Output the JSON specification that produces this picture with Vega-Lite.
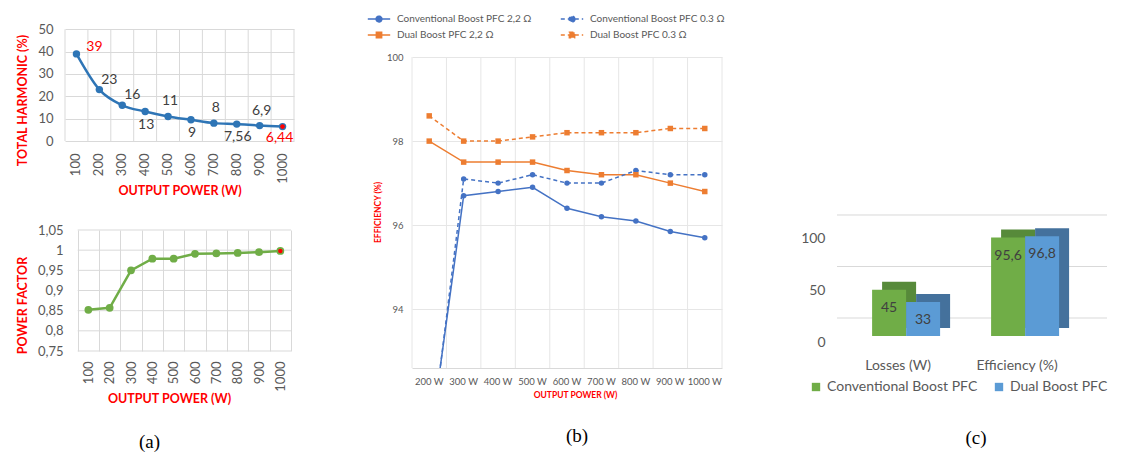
{
  "$schema": "https://vega.github.io/schema/vega-lite/v6.json",
  "background": "white",
  "padding": {"left": 16, "top": 10, "right": 5, "bottom": 5},
  "config": {
    "view": {"stroke": null},
    "font": "Lato",
    "axis": {"labelColor": "#595959", "labelFont": "Lato", "titleColor": "#ff0000", "titleFont": "Lato", "titleFontWeight": "bold", "domain": false, "ticks": false, "gridColor": "#d9d9d9"},
    "title": {"font": "Liberation Serif", "fontSize": 19, "fontWeight": "normal", "color": "#000000"}
  },
  "resolve": {"scale": {"color": "independent"}, "legend": {"color": "independent"}},
  "datasets": {
    "thd": [
      {"P": 100, "v": 39, "lbl": "39"}, {"P": 200, "v": 23, "lbl": "23"}, {"P": 300, "v": 16, "lbl": "16"},
      {"P": 400, "v": 13.2, "lbl": "13"}, {"P": 500, "v": 11, "lbl": "11"}, {"P": 600, "v": 9.5, "lbl": "9"},
      {"P": 700, "v": 8, "lbl": "8"}, {"P": 800, "v": 7.56, "lbl": "7,56"}, {"P": 900, "v": 6.9, "lbl": "6,9"},
      {"P": 1000, "v": 6.44, "lbl": "6,44"}
    ],
    "pf": [
      {"P": 100, "v": 0.852}, {"P": 200, "v": 0.857}, {"P": 300, "v": 0.95}, {"P": 400, "v": 0.979},
      {"P": 500, "v": 0.979}, {"P": 600, "v": 0.991}, {"P": 700, "v": 0.992}, {"P": 800, "v": 0.993},
      {"P": 900, "v": 0.995}, {"P": 1000, "v": 0.998}
    ],
    "pfgrid": [{"g": 0.75}, {"g": 0.8}, {"g": 0.85}, {"g": 0.9}, {"g": 0.95}, {"g": 1}, {"g": 1.05}],
    "eff": [
      {"P": "200 W", "s": "Conventional Boost PFC 2,2 Ω", "v": 90.7},
      {"P": "300 W", "s": "Conventional Boost PFC 2,2 Ω", "v": 96.7},
      {"P": "400 W", "s": "Conventional Boost PFC 2,2 Ω", "v": 96.8},
      {"P": "500 W", "s": "Conventional Boost PFC 2,2 Ω", "v": 96.9},
      {"P": "600 W", "s": "Conventional Boost PFC 2,2 Ω", "v": 96.4},
      {"P": "700 W", "s": "Conventional Boost PFC 2,2 Ω", "v": 96.2},
      {"P": "800 W", "s": "Conventional Boost PFC 2,2 Ω", "v": 96.1},
      {"P": "900 W", "s": "Conventional Boost PFC 2,2 Ω", "v": 95.85},
      {"P": "1000 W", "s": "Conventional Boost PFC 2,2 Ω", "v": 95.7},
      {"P": "200 W", "s": "Conventional Boost PFC 0.3 Ω", "v": 90.5},
      {"P": "300 W", "s": "Conventional Boost PFC 0.3 Ω", "v": 97.1},
      {"P": "400 W", "s": "Conventional Boost PFC 0.3 Ω", "v": 97.0},
      {"P": "500 W", "s": "Conventional Boost PFC 0.3 Ω", "v": 97.2},
      {"P": "600 W", "s": "Conventional Boost PFC 0.3 Ω", "v": 97.0},
      {"P": "700 W", "s": "Conventional Boost PFC 0.3 Ω", "v": 97.0},
      {"P": "800 W", "s": "Conventional Boost PFC 0.3 Ω", "v": 97.3},
      {"P": "900 W", "s": "Conventional Boost PFC 0.3 Ω", "v": 97.2},
      {"P": "1000 W", "s": "Conventional Boost PFC 0.3 Ω", "v": 97.2},
      {"P": "200 W", "s": "Dual Boost PFC 2,2 Ω", "v": 98.0},
      {"P": "300 W", "s": "Dual Boost PFC 2,2 Ω", "v": 97.5},
      {"P": "400 W", "s": "Dual Boost PFC 2,2 Ω", "v": 97.5},
      {"P": "500 W", "s": "Dual Boost PFC 2,2 Ω", "v": 97.5},
      {"P": "600 W", "s": "Dual Boost PFC 2,2 Ω", "v": 97.3},
      {"P": "700 W", "s": "Dual Boost PFC 2,2 Ω", "v": 97.2},
      {"P": "800 W", "s": "Dual Boost PFC 2,2 Ω", "v": 97.2},
      {"P": "900 W", "s": "Dual Boost PFC 2,2 Ω", "v": 97.0},
      {"P": "1000 W", "s": "Dual Boost PFC 2,2 Ω", "v": 96.8},
      {"P": "200 W", "s": "Dual Boost PFC 0.3 Ω", "v": 98.6},
      {"P": "300 W", "s": "Dual Boost PFC 0.3 Ω", "v": 98.0},
      {"P": "400 W", "s": "Dual Boost PFC 0.3 Ω", "v": 98.0},
      {"P": "500 W", "s": "Dual Boost PFC 0.3 Ω", "v": 98.1},
      {"P": "600 W", "s": "Dual Boost PFC 0.3 Ω", "v": 98.2},
      {"P": "700 W", "s": "Dual Boost PFC 0.3 Ω", "v": 98.2},
      {"P": "800 W", "s": "Dual Boost PFC 0.3 Ω", "v": 98.2},
      {"P": "900 W", "s": "Dual Boost PFC 0.3 Ω", "v": 98.3},
      {"P": "1000 W", "s": "Dual Boost PFC 0.3 Ω", "v": 98.3}
    ],
    "bars": [
      {"cat": "Losses (W)", "s": "Conventional Boost PFC", "v": 45, "lbl": "45"},
      {"cat": "Losses (W)", "s": "Dual Boost PFC", "v": 33, "lbl": "33"},
      {"cat": "Efficiency (%)", "s": "Conventional Boost PFC", "v": 95.6, "lbl": "95,6"},
      {"cat": "Efficiency (%)", "s": "Dual Boost PFC", "v": 96.8, "lbl": "96,8"}
    ],
    "cgrid": [{"g": 0}, {"g": 50}, {"g": 100}]
  },
  "concat": [
    {
      "concat": [
        {
          "width": 229,
          "height": 131,
          "data": {"name": "thd"},
          "encoding": {
            "x": {"field": "P", "type": "ordinal", "title": "OUTPUT POWER (W)", "scale": {"type": "band", "paddingInner": 0, "paddingOuter": 0},
              "axis": {"labelAngle": -90, "labelFontSize": 13, "labelPadding": 12, "titleFontSize": 12.5, "titlePadding": 1, "grid": false}},
            "y": {"field": "v", "type": "quantitative", "title": "TOTAL HARMONIC (%)", "scale": {"domain": [0, 58.64], "nice": false},
              "axis": {"values": [0, 10, 20, 30, 40, 50], "grid": true, "labelFontSize": 13, "labelPadding": 12, "titleFontSize": 12.5, "titlePadding": 8, "titleY": 90}}
          },
          "layer": [
            {"mark": {"type": "rule", "color": "#d9d9d9", "strokeWidth": 1},
              "encoding": {
                "x": {"field": "P", "type": "ordinal", "bandPosition": 0, "title": "OUTPUT POWER (W)", "scale": {"type": "band", "paddingInner": 0, "paddingOuter": 0}},
                "y": {"datum": 0, "type": "quantitative", "title": "TOTAL HARMONIC (%)"},
                "y2": {"datum": 50}
              }},
            {"transform": [{"filter": "datum.P == 1000"}],
              "mark": {"type": "rule", "color": "#d9d9d9", "strokeWidth": 1},
              "encoding": {
                "x": {"field": "P", "type": "ordinal", "bandPosition": 1, "title": "OUTPUT POWER (W)", "scale": {"type": "band", "paddingInner": 0, "paddingOuter": 0}},
                "y": {"datum": 0, "type": "quantitative", "title": "TOTAL HARMONIC (%)"},
                "y2": {"datum": 50}
              }},
            {"mark": {"type": "line", "color": "#2E75B6", "strokeWidth": 2.5, "interpolate": "monotone"}},
            {"mark": {"type": "circle", "color": "#2E75B6", "size": 55, "opacity": 1}},
            {"transform": [{"filter": "datum.P == 1000"}], "mark": {"type": "circle", "color": "#ff0000", "size": 22, "opacity": 1}},
            {"transform": [{"filter": "datum.P == 100"}], "mark": {"type": "text", "color": "#ff0000", "fontSize": 14, "dx": 18, "dy": -7}, "encoding": {"text": {"field": "lbl"}}},
            {"transform": [{"filter": "datum.P == 200 || datum.P == 300"}], "mark": {"type": "text", "color": "#404040", "fontSize": 14, "dx": 10, "dy": -10}, "encoding": {"text": {"field": "lbl"}}},
            {"transform": [{"filter": "datum.P == 500 || datum.P == 700 || datum.P == 900"}], "mark": {"type": "text", "color": "#404040", "fontSize": 14, "dx": 2, "dy": -15}, "encoding": {"text": {"field": "lbl"}}},
            {"transform": [{"filter": "datum.P == 400 || datum.P == 600 || datum.P == 800"}], "mark": {"type": "text", "color": "#404040", "fontSize": 14, "dx": 1, "dy": 13}, "encoding": {"text": {"field": "lbl"}}},
            {"transform": [{"filter": "datum.P == 1000"}], "mark": {"type": "text", "color": "#ff0000", "fontSize": 14, "dx": -3, "dy": 11}, "encoding": {"text": {"field": "lbl"}}}
          ]
        },
        {
          "width": 226,
          "height": 121,
          "data": {"name": "pf"},
          "encoding": {
            "x": {"field": "P", "type": "ordinal", "title": "OUTPUT POWER (W)", "scale": {"type": "band", "paddingInner": 0, "paddingOuter": 0.2975, "align": 1},
              "axis": {"labelAngle": -90, "labelFontSize": 13, "labelPadding": 10, "titleFontSize": 12.5, "titlePadding": 1, "grid": true, "tickBand": "extent", "titleX": 104}},
            "y": {"field": "v", "type": "quantitative", "title": "POWER FACTOR", "scale": {"domain": [0.75, 1.05], "nice": false, "zero": false},
              "axis": {"values": [0.75, 0.8, 0.85, 0.9, 0.95, 1, 1.05], "labelExpr": "replace(toString(datum.value), '.', ',')", "grid": false, "labelFontSize": 13, "labelPadding": 2, "titleFontSize": 12.5, "titlePadding": 8, "titleY": 75}}
          },
          "layer": [
            {"data": {"name": "pfgrid"}, "mark": {"type": "rule", "color": "#d9d9d9", "strokeWidth": 1},
              "encoding": {
                "x": {"datum": 100, "type": "ordinal", "bandPosition": 0, "title": "OUTPUT POWER (W)", "scale": {"type": "band", "paddingInner": 0, "paddingOuter": 0.2975, "align": 1}},
                "x2": {"value": "width"},
                "y": {"field": "g", "type": "quantitative", "title": "POWER FACTOR"}
              }},
            {"mark": {"type": "line", "color": "#70AD47", "strokeWidth": 2.5}},
            {"mark": {"type": "circle", "color": "#70AD47", "size": 60, "opacity": 1}},
            {"transform": [{"filter": "datum.P == 1000"}], "mark": {"type": "circle", "color": "#ff0000", "size": 20, "opacity": 1}}
          ]
        }
      ],
      "columns": 1,
      "spacing": 27,
      "title": {"text": "(a)", "orient": "bottom", "offset": 28, "anchor": "middle", "dx": -6}
    },
    {
      "width": 310,
      "height": 358,
      "data": {"name": "eff"},
      "title": {"text": "(b)", "orient": "bottom", "offset": 28, "dx": 10},
      "encoding": {
        "x": {"field": "P", "type": "ordinal", "title": "OUTPUT POWER (W)",
          "sort": ["200 W", "300 W", "400 W", "500 W", "600 W", "700 W", "800 W", "900 W", "1000 W"],
          "scale": {"type": "band", "paddingInner": 0, "paddingOuter": 0},
          "axis": {"labelAngle": 0, "labelFontSize": 9.5, "labelPadding": 8, "titleFontSize": 8.5, "titlePadding": 5, "titleX": 163, "grid": false, "domain": true, "domainColor": "#d9d9d9"}},
        "y": {"field": "v", "type": "quantitative", "title": "EFFICIENCY (%)", "scale": {"domain": [92.6, 101.12], "nice": false, "zero": false},
          "axis": {"values": [94, 96, 98, 100], "grid": true, "gridColor": "#e6e6e6", "labelFontSize": 9.5, "labelPadding": 9, "titleFontSize": 8.5, "titlePadding": 4, "titleY": 202}},
        "color": {"field": "s", "type": "nominal",
          "scale": {"domain": ["Conventional Boost PFC 2,2 Ω", "Conventional Boost PFC 0.3 Ω", "Dual Boost PFC 2,2 Ω", "Dual Boost PFC 0.3 Ω"],
                    "range": ["#4472C4", "#4472C4", "#ED7D31", "#ED7D31"]},
          "legend": {"orient": "none", "legendX": -42, "legendY": 0, "columns": 2, "direction": "horizontal", "title": null,
            "labelFontSize": 10, "labelColor": "#595959", "labelFont": "Lato", "symbolSize": 256, "symbolStrokeWidth": 1.5,
            "columnPadding": 25, "rowPadding": 1, "labelOffset": 9, "labelLimit": 300,
            "encode": {"symbols": {"update": {
              "shape": {"signal": "indexof(datum.value, 'Dual') >= 0 ? 'M-1.4,0H1.4M-0.33,-0.33H0.33V0.33H-0.33Z' : 'M-1.4,0H1.4M0.36,0A0.36,0.36,0,1,1,-0.36,0A0.36,0.36,0,1,1,0.36,0Z'"},
              "fill": {"signal": "indexof(datum.value, 'Dual') >= 0 ? '#ED7D31' : '#4472C4'"},
              "stroke": {"signal": "indexof(datum.value, 'Dual') >= 0 ? '#ED7D31' : '#4472C4'"},
              "strokeDash": {"signal": "indexof(datum.value, '0.3') >= 0 ? [4,3] : [1,0]"}
            }}}}}
      },
      "layer": [
        {"transform": [{"filter": "datum.s == 'Dual Boost PFC 0.3 Ω'"}],
          "mark": {"type": "rule", "strokeWidth": 1},
          "encoding": {
            "x": {"field": "P", "type": "ordinal", "bandPosition": 0, "title": "OUTPUT POWER (W)",
              "sort": ["200 W", "300 W", "400 W", "500 W", "600 W", "700 W", "800 W", "900 W", "1000 W"],
              "scale": {"type": "band", "paddingInner": 0, "paddingOuter": 0}},
            "y": {"datum": 92.6, "type": "quantitative", "title": "EFFICIENCY (%)"},
            "y2": {"datum": 100},
            "color": {"value": "#e6e6e6"}
          }},
        {"transform": [{"filter": "datum.s == 'Dual Boost PFC 0.3 Ω' && datum.P == '1000 W'"}],
          "mark": {"type": "rule", "strokeWidth": 1},
          "encoding": {
            "x": {"field": "P", "type": "ordinal", "bandPosition": 1, "title": "OUTPUT POWER (W)",
              "sort": ["200 W", "300 W", "400 W", "500 W", "600 W", "700 W", "800 W", "900 W", "1000 W"],
              "scale": {"type": "band", "paddingInner": 0, "paddingOuter": 0}},
            "y": {"datum": 92.6, "type": "quantitative", "title": "EFFICIENCY (%)"},
            "y2": {"datum": 100},
            "color": {"value": "#e6e6e6"}
          }},
        {"transform": [{"filter": "indexof(datum.s, '2,2') >= 0"}], "mark": {"type": "line", "strokeWidth": 1.5, "clip": true}},
        {"transform": [{"filter": "indexof(datum.s, '0.3') >= 0"}], "mark": {"type": "line", "strokeWidth": 1.5, "clip": true, "strokeDash": [4, 3]}},
        {"transform": [{"filter": "indexof(datum.s, 'Conventional') >= 0"}], "mark": {"type": "point", "shape": "circle", "filled": true, "size": 30, "opacity": 1, "clip": true}},
        {"transform": [{"filter": "indexof(datum.s, 'Dual') >= 0"}], "mark": {"type": "point", "shape": "square", "filled": true, "size": 30, "opacity": 1, "clip": true}}
      ]
    },
    {
      "width": 270,
      "height": 326,
      "title": {"text": "(c)", "orient": "bottom", "offset": 35, "dx": 4},
      "layer": [
        {"data": {"name": "cgrid"}, "mark": {"type": "rule", "color": "#d9d9d9", "yOffset": -18},
          "encoding": {"y": {"field": "g", "type": "quantitative", "title": null, "scale": {"domain": [0, 316.5], "nice": false},
            "axis": {"values": [0, 50, 100], "grid": false, "labelFontSize": 14, "labelPadding": 12, "labelOffset": 6}}}},
        {"data": {"name": "bars"}, "transform": [{"filter": "datum.s == 'Conventional Boost PFC'"}],
          "mark": {"type": "bar", "color": "#578a3a", "width": {"band": 0.2857}, "xOffset": -7, "x2Offset": -7, "yOffset": -8, "y2Offset": -8},
          "encoding": {
            "x": {"field": "cat", "type": "nominal", "title": null, "sort": ["Losses (W)", "Efficiency (%)"],
              "scale": {"paddingInner": 0, "paddingOuter": 0.1345, "align": 0.3},
              "axis": {"labelAngle": 0, "labelFontSize": 14, "labelPadding": 22, "labelOffset": -8, "grid": false}},
            "y": {"field": "v", "type": "quantitative", "title": null}
          }},
        {"data": {"name": "bars"}, "transform": [{"filter": "datum.s == 'Dual Boost PFC'"}],
          "mark": {"type": "bar", "color": "#44719c", "width": {"band": 0.2857}, "xOffset": 27, "x2Offset": 27, "yOffset": -8, "y2Offset": -8},
          "encoding": {
            "x": {"field": "cat", "type": "nominal", "title": null, "sort": ["Losses (W)", "Efficiency (%)"]},
            "y": {"field": "v", "type": "quantitative", "title": null}
          }},
        {"data": {"name": "bars"}, "transform": [{"filter": "datum.s == 'Conventional Boost PFC'"}],
          "mark": {"type": "bar", "width": {"band": 0.2857}, "xOffset": -17, "x2Offset": -17, "opacity": 1},
          "encoding": {
            "x": {"field": "cat", "type": "nominal", "title": null, "sort": ["Losses (W)", "Efficiency (%)"]},
            "y": {"field": "v", "type": "quantitative", "title": null},
            "color": {"datum": "Conventional Boost PFC", "type": "nominal",
              "scale": {"domain": ["Conventional Boost PFC", "Dual Boost PFC"], "range": ["#70ad47", "#5b9bd5"]},
              "legend": {"orient": "none", "legendX": -28, "legendY": 370, "direction": "horizontal", "title": null, "symbolType": "square", "symbolSize": 70,
                "labelFontSize": 14, "labelColor": "#595959", "labelFont": "Lato", "labelLimit": 300, "columnPadding": 14, "symbolStrokeWidth": 0}}
          }},
        {"data": {"name": "bars"}, "transform": [{"filter": "datum.s == 'Dual Boost PFC'"}],
          "mark": {"type": "bar", "width": {"band": 0.2857}, "xOffset": 17, "x2Offset": 17, "opacity": 1},
          "encoding": {
            "x": {"field": "cat", "type": "nominal", "title": null, "sort": ["Losses (W)", "Efficiency (%)"]},
            "y": {"field": "v", "type": "quantitative", "title": null},
            "color": {"datum": "Dual Boost PFC", "type": "nominal"}
          }},
        {"data": {"name": "bars"}, "transform": [{"filter": "datum.s == 'Conventional Boost PFC'"}],
          "mark": {"type": "text", "fontSize": 14, "color": "#404040", "dx": -17, "dy": 18},
          "encoding": {
            "x": {"field": "cat", "type": "nominal", "title": null, "sort": ["Losses (W)", "Efficiency (%)"]},
            "y": {"field": "v", "type": "quantitative", "title": null},
            "text": {"field": "lbl"}
          }},
        {"data": {"name": "bars"}, "transform": [{"filter": "datum.s == 'Dual Boost PFC'"}],
          "mark": {"type": "text", "fontSize": 14, "color": "#404040", "dx": 17, "dy": 18},
          "encoding": {
            "x": {"field": "cat", "type": "nominal", "title": null, "sort": ["Losses (W)", "Efficiency (%)"]},
            "y": {"field": "v", "type": "quantitative", "title": null},
            "text": {"field": "lbl"}
          }}
      ]
    }
  ],
  "columns": 3,
  "align": "none",
  "spacing": 75
}
